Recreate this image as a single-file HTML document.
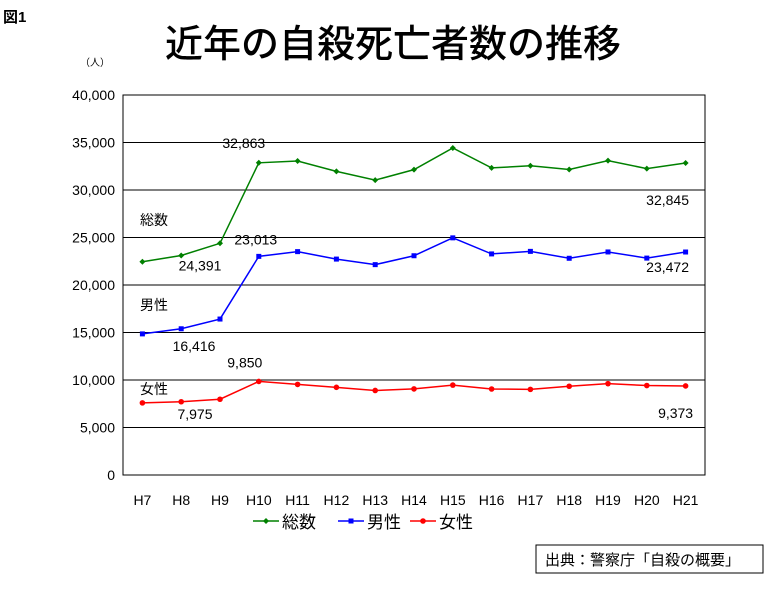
<!DOCTYPE html>
<html><head><meta charset="utf-8"><style>
body{margin:0;background:#fff;width:780px;height:588px;overflow:hidden;font-family:"Liberation Sans","Noto Sans CJK JP",sans-serif}
svg text{font-family:"Liberation Sans","Noto Sans CJK JP",sans-serif}
</style></head><body>
<svg id="c" width="780" height="588" xmlns="http://www.w3.org/2000/svg">
<text x="3" y="22" font-size="15" font-weight="bold">図1</text>
<text x="393" y="57" font-size="38" font-weight="500" text-anchor="middle">近年の自殺死亡者数の推移</text>
<text x="80" y="66" font-size="10">（人）</text>
<rect x="536" y="545" width="227" height="28" fill="#fff" stroke="#000"/>
<text x="545" y="565" font-size="15">出典：警察庁「自殺の概要」</text>
<g id="plot"></g>
</svg>
<script>
const categories=["H7","H8","H9","H10","H11","H12","H13","H14","H15","H16","H17","H18","H19","H20","H21"];
const totalValues=[22445,23104,24391,32863,33048,31957,31042,32143,34427,32325,32552,32155,33093,32249,32845];
const maleValues=[14853,15393,16416,23013,23512,22727,22144,23080,24963,23272,23540,22813,23478,22831,23472];
const femaleValues=[7592,7711,7975,9850,9536,9230,8898,9063,9464,9053,9012,9342,9615,9418,9373];
const yTicks=[0,5000,10000,15000,20000,25000,30000,35000,40000];
const seriesNames=["総数","男性","女性"];
const NS="http://www.w3.org/2000/svg";
const L=123,R=705,T=95,B=475,yMax=40000;
const bw=(R-L)/categories.length;
const xs=i=>L+bw*(i+0.5);
const ys=v=>B-(v/yMax)*(B-T);
const g=document.getElementById('plot');
function mk(tag,a){const e=document.createElementNS(NS,tag);for(const k in a)e.setAttribute(k,a[k]);g.appendChild(e);return e;}
const fmt=v=>v.toLocaleString('en-US');
yTicks.forEach(v=>{
 if(v>0){const l=mk('line',{x1:L,x2:R,y1:ys(v),y2:ys(v),stroke:'#000','stroke-width':1});
 
 }
 const t=mk('text',{x:L-8,y:ys(v)+5,'font-size':14,'text-anchor':'end'});t.textContent=fmt(v);
 
 
});
const fr=mk('rect',{x:L,y:T,width:R-L,height:B-T,fill:'none',stroke:'#000'});


categories.forEach((c,i)=>{const t=mk('text',{x:xs(i),y:B+30,'font-size':14,'text-anchor':'middle'});t.textContent=c;
 
 });
function series(vals,col,shape,name){
 const p=mk('polyline',{points:vals.map((v,i)=>xs(i)+','+ys(v)).join(' '),fill:'none',stroke:col,'stroke-width':1.5});
 
 
 vals.forEach((v,i)=>{const x=xs(i),y=ys(v);let m;
  if(shape==='d')m=mk('polygon',{points:`${x},${y-3} ${x+3},${y} ${x},${y+3} ${x-3},${y}`,fill:col});
  else if(shape==='s')m=mk('rect',{x:x-2.5,y:y-2.5,width:5,height:5,fill:col});
  else m=mk('circle',{cx:x,cy:y,r:2.8,fill:col});
  
  });
}
series(totalValues,'#008000','d','total');
series(maleValues,'#0000ff','s','male');
series(femaleValues,'#ff0000','c','female');
function lab(txt,x,y,name){const t=mk('text',{x:x,y:y,'font-size':14,'text-anchor':'middle'});t.textContent=txt;
 
 }
lab(fmt(totalValues[3]),xs(3)-15,ys(totalValues[3])-15,'total-h10-label');
lab(fmt(totalValues[2]),xs(2)-20,ys(totalValues[2])+27,'total-h9-label');
lab(fmt(totalValues[14]),xs(14)-18,ys(totalValues[14])+42,'total-h21-label');
lab(fmt(maleValues[3]),xs(3)-3,ys(maleValues[3])-12,'male-h10-label');
lab(fmt(maleValues[2]),xs(2)-26,ys(maleValues[2])+32,'male-h9-label');
lab(fmt(maleValues[14]),xs(14)-18,ys(maleValues[14])+20,'male-h21-label');
lab(fmt(femaleValues[3]),xs(3)-14,ys(femaleValues[3])-14,'female-h10-label');
lab(fmt(femaleValues[2]),xs(2)-25,ys(femaleValues[2])+20,'female-h9-label');
lab(fmt(femaleValues[14]),xs(14)-10,ys(femaleValues[14])+32,'female-h21-label');
[[totalValues,225],[maleValues,310],[femaleValues,394]].forEach((a,k)=>{const t=mk('text',{x:140,y:a[1],'font-size':14});t.textContent=seriesNames[k];
 
 });
const cols=['#008000','#0000ff','#ff0000'],sh=['d','s','c'],lx=[253,338,410];
seriesNames.forEach((n,k)=>{const x=lx[k],y=521;
 const l=mk('line',{x1:x,x2:x+26,y1:y,y2:y,stroke:cols[k],'stroke-width':1.5});
 
 
 const cx=x+13;let m;
 if(sh[k]==='d')m=mk('polygon',{points:`${cx},${y-3} ${cx+3},${y} ${cx},${y+3} ${cx-3},${y}`,fill:cols[k]});
 else if(sh[k]==='s')m=mk('rect',{x:cx-2.5,y:y-2.5,width:5,height:5,fill:cols[k]});
 else m=mk('circle',{cx:cx,cy:y,r:2.8,fill:cols[k]});
 
 
 const t=mk('text',{x:x+29,y:y+7,'font-size':17});t.textContent=n;
 
 
});
</script>
</body></html>
